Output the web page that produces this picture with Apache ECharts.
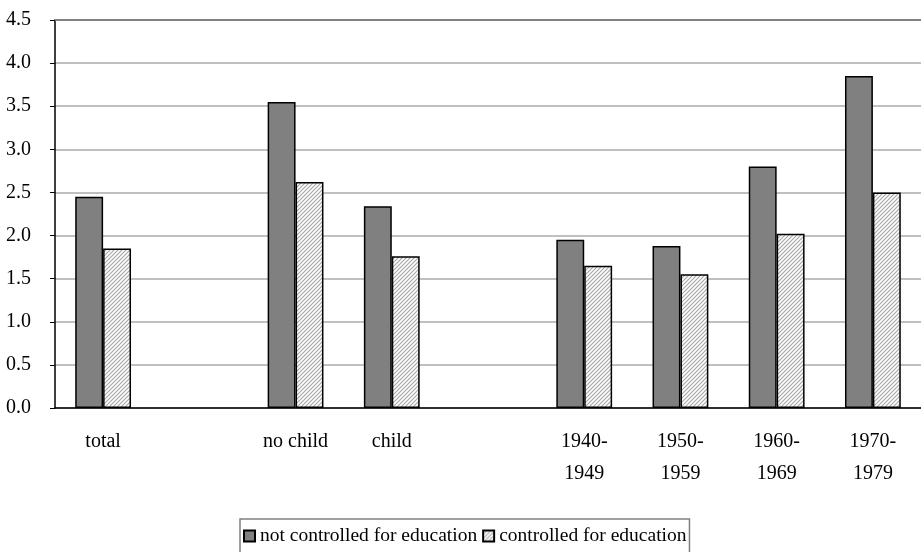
<!DOCTYPE html>
<html>
<head>
<meta charset="utf-8">
<script src="https://cdn.jsdelivr.net/npm/echarts@6/dist/echarts.min.js"></script>
<style>
  html, body { margin: 0; padding: 0; background: #fff; }
  #chart { width: 921px; height: 552px; }
</style>
</head>
<body>
<div id="chart"></div>
<script>
const categories = ["total", "", "no child", "child", "", "1940-\n1949", "1950-\n1959", "1960-\n1969", "1970-\n1979"]
const notControlled = [2.45, null, 3.55, 2.34, null, 1.95, 1.88, 2.80, 3.85]
const controlled = [1.85, null, 2.62, 1.76, null, 1.65, 1.55, 2.02, 2.50]
const seriesNames = ["not controlled for education", "controlled for education"]

const font = "'Liberation Serif', 'Times New Roman', serif"

// diagonal hatch for the second series
const makeHatch = () => {
    const c = document.createElement("canvas")
    c.width = 4
    c.height = 4
    const ctx = c.getContext("2d")
    ctx.fillStyle = "#ffffff"
    ctx.fillRect(0, 0, 4, 4)
    ctx.strokeStyle = "#a8a8a8"
    ctx.lineWidth = 1.2
    ctx.beginPath()
    ctx.moveTo(-1, 5); ctx.lineTo(5, -1)
    ctx.moveTo(-1, 1); ctx.lineTo(1, -1)
    ctx.moveTo(3, 5); ctx.lineTo(5, 3)
    ctx.stroke()
    return c
}

const chart = echarts.init(document.getElementById("chart"))

chart.setOption({
    animation: false,
    textStyle: { fontFamily: font },
    grid: { left: 55, right: -12, top: 20, bottom: 144 },
    legend: {
        bottom: -10,
        left: 240,
        icon: "rect",
        itemWidth: 11,
        itemHeight: 11,
        itemGap: 5,
        padding: [7, 3, 16, 3],
        borderColor: "#808080",
        borderWidth: 1.5,
        textStyle: { fontFamily: font, fontSize: 19.5, color: "#000" },
        data: seriesNames
    },
    xAxis: [{
        type: "category",
        data: categories,
        axisLine: { lineStyle: { color: "#000", width: 1.5 } },
        axisTick: { show: false },
        axisLabel: {
            fontFamily: font, fontSize: 20, color: "#000",
            margin: 18, lineHeight: 32, interval: 0
        }
    }, {
        type: "category",
        data: categories,
        position: "top",
        axisLine: { show: true, lineStyle: { color: "#808080", width: 2 } },
        axisTick: { show: false },
        axisLabel: { show: false }
    }],
    yAxis: {
        type: "value",
        min: 0,
        max: 4.5,
        interval: 0.5,
        axisLine: { show: true, lineStyle: { color: "#000", width: 1.5 } },
        axisTick: { show: true, length: 5, lineStyle: { color: "#000" } },
        axisLabel: {
            fontFamily: font, fontSize: 20, color: "#000", margin: 24,
            formatter: v => v.toFixed(1)
        },
        splitLine: { lineStyle: { color: "#c0c0c0", width: 2 } }
    },
    series: [{
        name: seriesNames[0],
        type: "bar",
        data: notControlled,
        barGap: "0%",
        barCategoryGap: "42%",
        itemStyle: { color: "#808080", borderColor: "#000", borderWidth: 1.5 }
    }, {
        name: seriesNames[1],
        type: "bar",
        data: controlled,
        barGap: "0%",
        barCategoryGap: "42%",
        itemStyle: {
            color: { image: makeHatch(), repeat: "repeat" },
            borderColor: "#000",
            borderWidth: 1.5
        }
    }]
})

window.addEventListener("resize", () => chart.resize())
</script>
</body>
</html>
